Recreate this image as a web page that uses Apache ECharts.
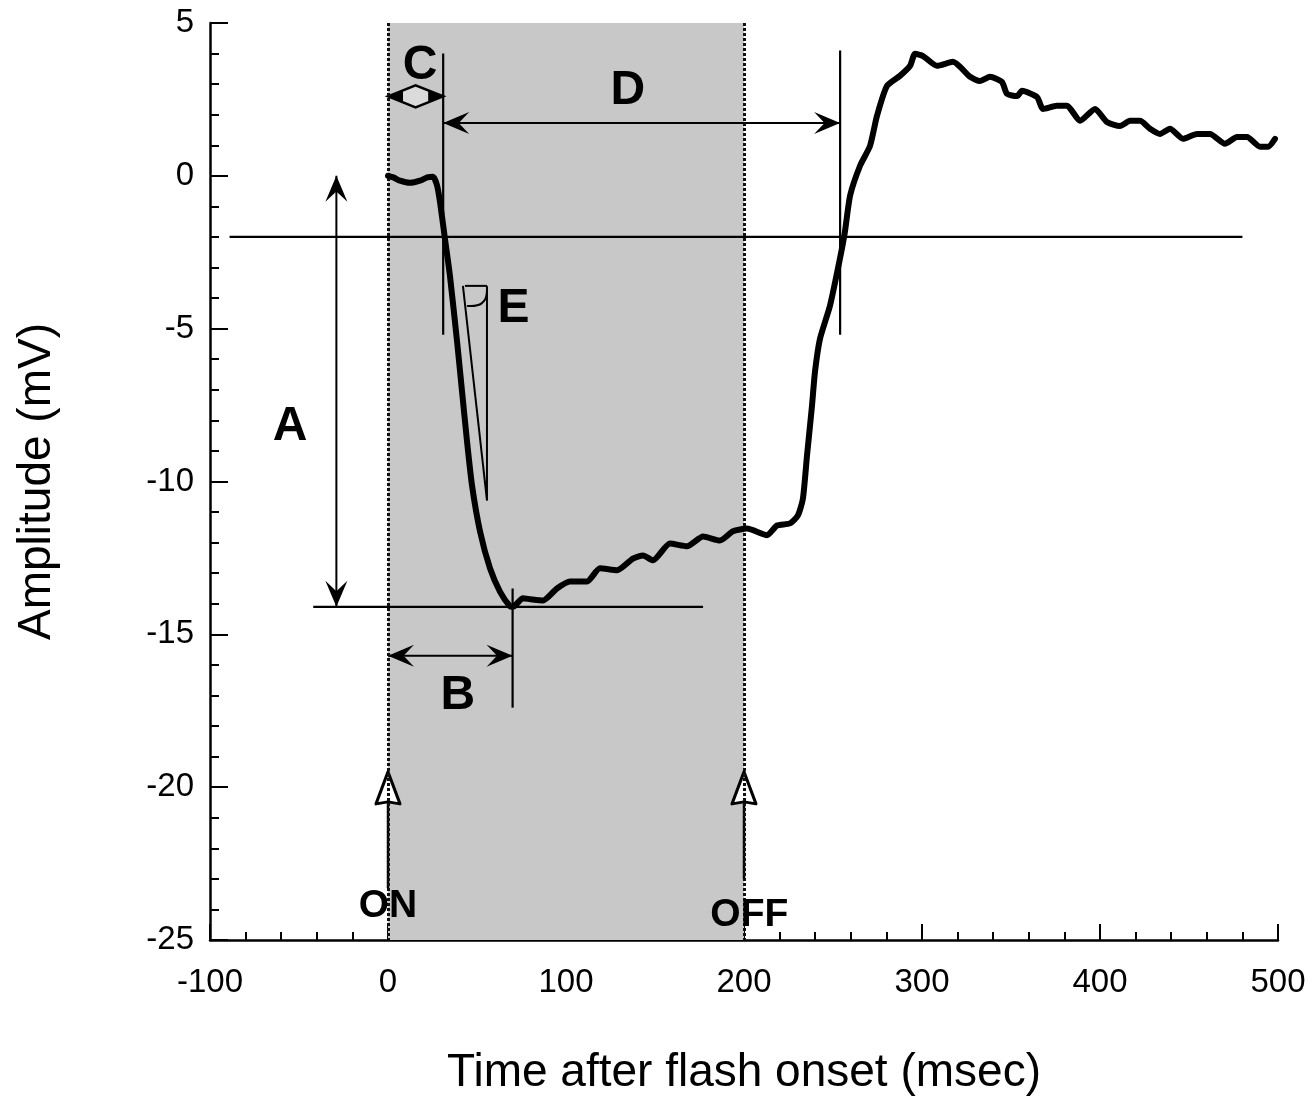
<!DOCTYPE html>
<html>
<head>
<meta charset="utf-8">
<title>ERG a-wave</title>
<script src="https://cdn.jsdelivr.net/npm/echarts@6/dist/echarts.min.js"></script>
<style>
  html, body { margin: 0; padding: 0; background: #fff; }
  #chart { width: 1315px; height: 1101px; }
</style>
</head>
<body>
<div id="chart"></div>
<script>
// recording
var timeMs = [0, 3, 6.7, 12.4, 18, 22, 25.3, 27.5, 29.2, 32, 34.8, 38.8, 41.6, 44.4, 47.2, 51.7, 57.3, 62.9, 68.5, 70.2,
  75.8, 80, 87.1, 94.9, 102.2, 111.8, 119.1, 128.7, 137.6, 143.3, 148.9, 158.4, 168, 177, 186.5, 193.8, 201.7, 212.9, 218.5, 225.8, 230.3, 233.1,
  235.4, 238.2, 239.9, 242.7, 248.3, 253.9, 256.7, 259.6, 265.2, 270.8, 274.7, 280.3, 287.6, 293.3, 296.1, 300.6, 308.4, 317.4, 327, 332.6,
  338.2, 344.9, 347.8, 353.4, 356.2, 364.6, 368, 375.8, 381.5, 388.8, 397.2, 403.9, 411.2, 416.9, 422.5, 428.1, 433.7, 439.3, 446.6, 454.5,
  461.8, 470.2, 477, 482.6, 489.9, 494.4, 498.3];
var amplitudeMv = [0, -0.05, -0.16, -0.23, -0.16, -0.05, -0.03, -0.3, -0.85, -2.06, -3.27, -5.42, -7.06, -8.69, -10.13, -11.63, -12.84, -13.6, -14.08, -14.1,
  -13.82, -13.85, -13.89, -13.5, -13.27, -13.27, -12.84, -12.9, -12.52, -12.42, -12.58, -12.03, -12.12, -11.8, -11.93, -11.63, -11.54, -11.76, -11.44, -11.37, -11.11, -10.56,
  -9.15, -7.52, -6.4, -5.33, -4.25, -2.71, -1.83, -0.65, 0.33, 0.98, 1.96, 2.94, 3.27, 3.6, 3.99, 3.92, 3.6, 3.73, 3.24, 3.1,
  3.24, 3.07, 2.68, 2.61, 2.78, 2.58, 2.19, 2.29, 2.29, 1.8, 2.19, 1.76, 1.63, 1.8, 1.8, 1.54, 1.37, 1.54, 1.21, 1.37,
  1.37, 1.05, 1.27, 1.27, 0.95, 0.95, 1.21];

// stimulus window (ms)
var flashOn = 0;
var flashOff = 200;

// reference lines [x1, y1, x2, y2]
var refLines = [
  [-89, -2, 480, -2],
  [-42, -14.1, 177, -14.1],
  [31, 4.0, 31, -5.2],
  [254, 4.1, 254, -5.2],
  [70, -13.5, 70, -17.4]
];
// double-headed measurement arrows [x1, y1, x2, y2]
var dimArrows = [
  [-29, 0, -29, -14.1],
  [0, -15.7, 70, -15.7],
  [31, 1.73, 254, 1.73]
];
// C latency arrow [x1, x2, y]
var cArrow = [[0, 31, 2.6]];
// E slope wedge [xTop, yTop, xBottom, yBottom]
var eWedge = [[42.1, -3.6, 55.6, -10.62]];
// ON / OFF markers [x, yBottom, yTip]
var stimArrows = [[flashOn, -23.3, -19.5], [flashOff, -23.0, -19.5]];
// labels [text, x, y]
var letters = [['A', -55, -8.2], ['B', 39.3, -17.0], ['C', 18, 3.6], ['D', 134.8, 2.78], ['E', 70.5, -4.35]];
var stimLabels = [['ON', 0, -23.9], ['OFF', 203, -24.2]];

var chart = echarts.init(document.getElementById('chart'));
var FONT = '"Liberation Sans", Arial, Helvetica, sans-serif';

function head(tip, from, len, half) {
  var dx = tip[0] - from[0], dy = tip[1] - from[1];
  var l = Math.sqrt(dx * dx + dy * dy) || 1;
  dx /= l; dy /= l;
  var nx = -dy, ny = dx;
  var bx = tip[0] - dx * len, by = tip[1] - dy * len;
  var mx = tip[0] - dx * len * 0.6, my = tip[1] - dy * len * 0.6;
  return [tip, [bx + nx * half, by + ny * half], [mx, my], [bx - nx * half, by - ny * half]];
}

var trace = timeMs.map(function (t, i) { return [t, amplitudeMv[i]]; });

var labelSeries = function (rows, size) {
  return {
    type: 'scatter', silent: true, symbolSize: 0, z: 6,
    itemStyle: { opacity: 1 },
    data: rows.map(function (d) { return { name: d[0], value: [d[1], d[2]] }; }),
    label: {
      show: true, position: 'inside', formatter: '{b}', opacity: 1,
      fontSize: size, fontWeight: 'bold', color: '#000', fontFamily: FONT
    }
  };
};

var option = {
  animation: false,
  backgroundColor: '#fff',
  grid: { left: 210, right: 37, top: 23, bottom: 159 },
  xAxis: {
    type: 'value', min: -100, max: 500, interval: 100,
    name: 'Time after flash onset (msec)', nameLocation: 'middle', nameGap: 110,
    nameTextStyle: { fontSize: 46, color: '#000', fontFamily: FONT },
    axisLine: { onZero: false, lineStyle: { color: '#000', width: 2.5 } },
    axisTick: { inside: true, length: 16, lineStyle: { color: '#000', width: 2 } },
    minorTick: { show: true, splitNumber: 5, length: 8, lineStyle: { color: '#000', width: 2 } },
    axisLabel: { margin: 26, fontSize: 33, color: '#000', fontFamily: FONT },
    splitLine: { show: false }
  },
  yAxis: {
    type: 'value', min: -25, max: 5, interval: 5,
    name: 'Amplitude (mV)', nameLocation: 'middle', nameGap: 150, nameRotate: 90,
    nameTextStyle: { fontSize: 46, color: '#000', fontFamily: FONT },
    axisLine: { onZero: false, lineStyle: { color: '#000', width: 2.5 } },
    axisTick: { inside: true, length: 18, lineStyle: { color: '#000', width: 2 } },
    minorTick: { show: true, splitNumber: 5, length: 9, lineStyle: { color: '#000', width: 2 } },
    axisLabel: { margin: 16, fontSize: 33, color: '#000', fontFamily: FONT },
    splitLine: { show: false }
  },
  series: [
    {
      // shaded flash window
      type: 'line', data: [], silent: true,
      markArea: {
        silent: true,
        itemStyle: { color: '#c8c8c8', borderWidth: 0 },
        data: [[{ xAxis: flashOn, yAxis: 5 }, { xAxis: flashOff, yAxis: -25 }]]
      },
      markLine: {
        silent: true, symbol: 'none', label: { show: false },
        lineStyle: { color: '#111', type: [3, 2], width: 3 },
        data: [
          [{ coord: [flashOn, 5] }, { coord: [flashOn, -25] }],
          [{ coord: [flashOff, 5] }, { coord: [flashOff, -25] }]
        ]
      }
    },
    {
      type: 'custom', silent: true, data: refLines, z: 3,
      renderItem: function (p, api) {
        var a = api.coord([api.value(0), api.value(1)]);
        var b = api.coord([api.value(2), api.value(3)]);
        return { type: 'line', shape: { x1: a[0], y1: a[1], x2: b[0], y2: b[1] }, style: { stroke: '#000', lineWidth: 2.2 } };
      }
    },
    {
      type: 'custom', silent: true, data: dimArrows, z: 3,
      renderItem: function (p, api) {
        var a = api.coord([api.value(0), api.value(1)]);
        var b = api.coord([api.value(2), api.value(3)]);
        return {
          type: 'group', children: [
            { type: 'line', shape: { x1: a[0], y1: a[1], x2: b[0], y2: b[1] }, style: { stroke: '#000', lineWidth: 2 } },
            { type: 'polygon', shape: { points: head(a, b, 26, 11) }, style: { fill: '#000' } },
            { type: 'polygon', shape: { points: head(b, a, 26, 11) }, style: { fill: '#000' } }
          ]
        };
      }
    },
    {
      type: 'custom', silent: true, data: cArrow, z: 3,
      renderItem: function (p, api) {
        var a = api.coord([api.value(0), api.value(2)]);
        var b = api.coord([api.value(1), api.value(2)]);
        var mx = (a[0] + b[0]) / 2, y = a[1];
        return {
          type: 'group', children: [
            { type: 'polygon', shape: { points: [a, [mx, y - 11], b, [mx, y + 11]] }, style: { fill: 'rgba(255,255,255,0.35)', stroke: '#000', lineWidth: 2.5 } },
            { type: 'polygon', shape: { points: [a, [a[0] + 15, y - 6], [a[0] + 15, y + 6]] }, style: { fill: '#000' } },
            { type: 'polygon', shape: { points: [b, [b[0] - 15, y - 6], [b[0] - 15, y + 6]] }, style: { fill: '#000' } }
          ]
        };
      }
    },
    {
      type: 'custom', silent: true, data: eWedge, z: 3,
      renderItem: function (p, api) {
        var t = api.coord([api.value(0), api.value(1)]);
        var b = api.coord([api.value(2), api.value(3)]);
        var tr = [b[0], t[1]];
        return {
          type: 'group', children: [
            { type: 'line', shape: { x1: t[0], y1: t[1], x2: b[0], y2: b[1] }, style: { stroke: '#000', lineWidth: 2 } },
            { type: 'line', shape: { x1: tr[0], y1: tr[1], x2: b[0], y2: b[1] }, style: { stroke: '#000', lineWidth: 2 } },
            { type: 'line', shape: { x1: t[0] + 2, y1: t[1], x2: tr[0], y2: tr[1] }, style: { stroke: '#000', lineWidth: 2 } },
            { type: 'bezierCurve', shape: { x1: tr[0], y1: tr[1] + 5, cpx1: tr[0], cpy1: tr[1] + 22, x2: t[0] + 4, y2: t[1] + 20 }, style: { stroke: '#000', lineWidth: 2, fill: 'none' } }
          ]
        };
      }
    },
    {
      type: 'custom', silent: true, data: stimArrows, z: 4,
      renderItem: function (p, api) {
        var bot = api.coord([api.value(0), api.value(1)]);
        var tip = api.coord([api.value(0), api.value(2)]);
        var x = tip[0], hb = tip[1] + 32;
        return {
          type: 'group', children: [
            { type: 'line', shape: { x1: x, y1: bot[1], x2: x, y2: hb - 3 }, style: { stroke: '#000', lineWidth: 2.5 } },
            { type: 'polygon', shape: { points: [[x, tip[1]], [x + 12, hb], [x, hb - 2], [x - 12, hb]] }, style: { fill: '#fff', stroke: '#000', lineWidth: 3, lineJoin: 'round' } }
          ]
        };
      }
    },
    {
      name: 'ERG', type: 'line', data: trace, z: 5, silent: true,
      symbol: 'none', smooth: 0.2,
      lineStyle: { color: '#000', width: 6, cap: 'round', join: 'round' }
    },
    labelSeries(letters, 48),
    labelSeries(stimLabels, 39)
  ]
};
chart.setOption(option);
</script>
</body>
</html>
